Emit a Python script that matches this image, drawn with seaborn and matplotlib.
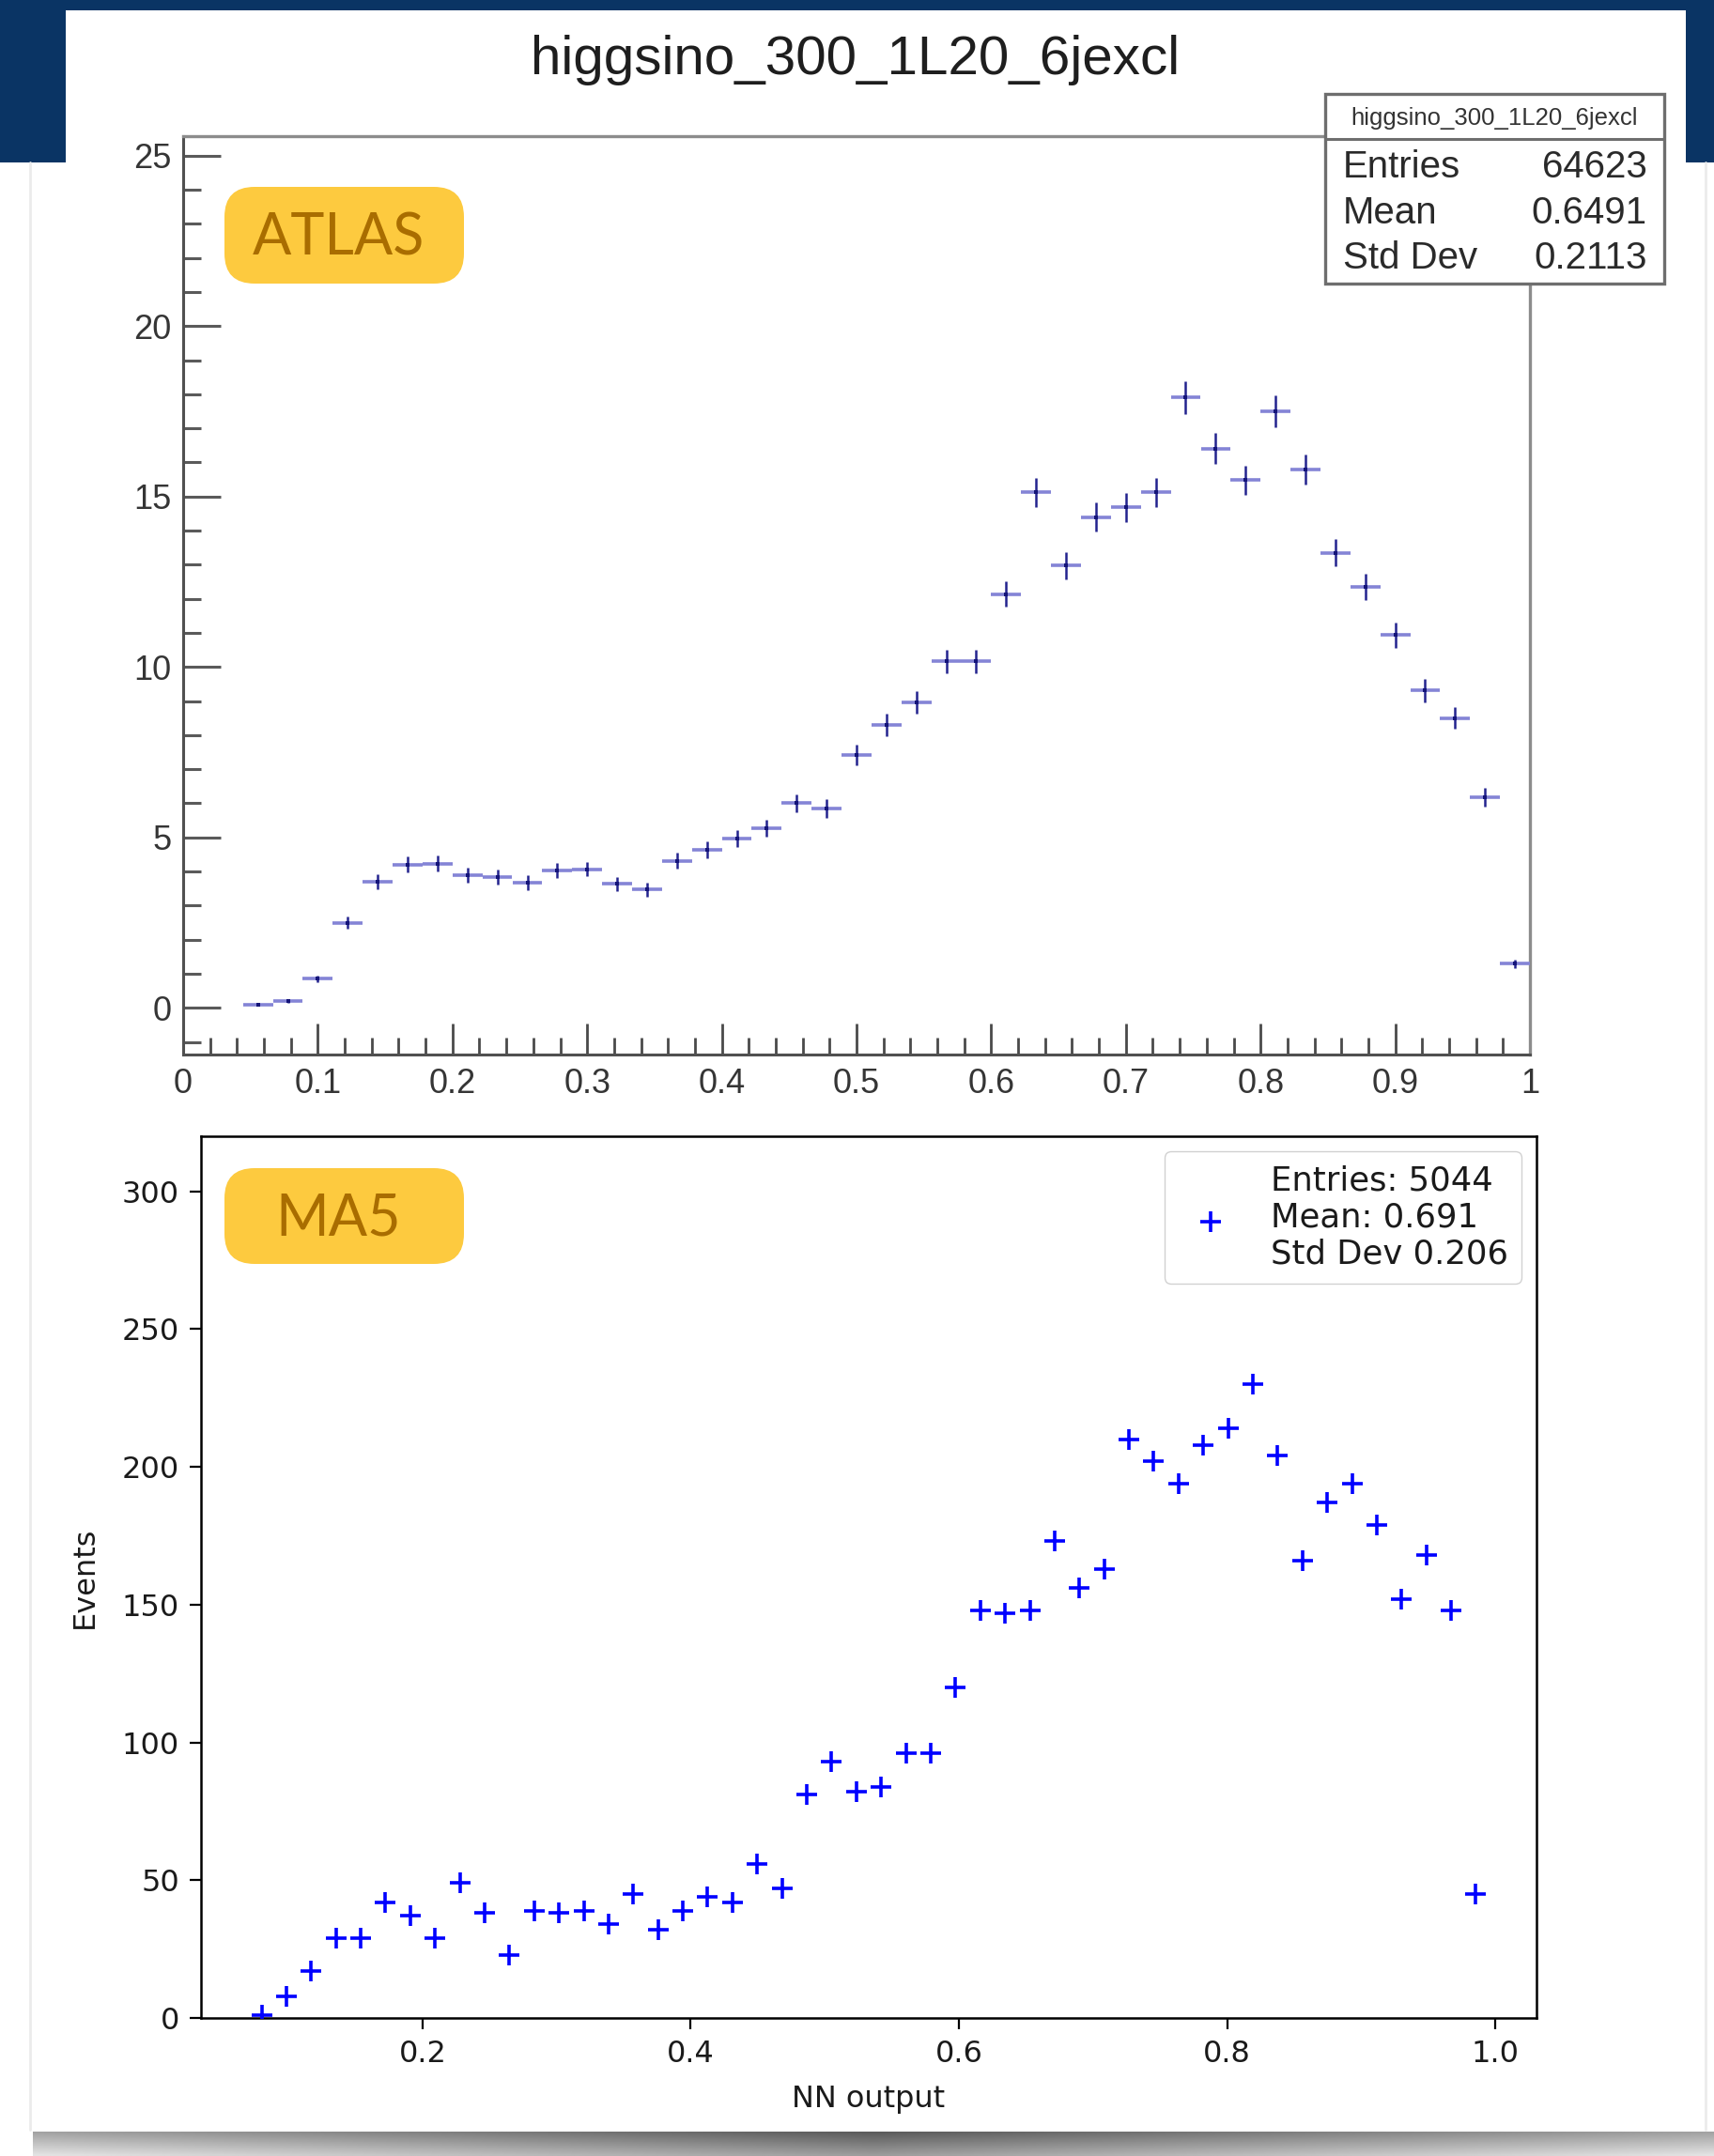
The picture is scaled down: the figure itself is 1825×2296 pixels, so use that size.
import matplotlib
matplotlib.use("Agg")
import matplotlib.pyplot as plt
import matplotlib.transforms as mtrans
from matplotlib.patches import Rectangle, FancyBboxPatch
from matplotlib.lines import Line2D
from matplotlib.ticker import MultipleLocator
import numpy as np
import pandas as pd
import seaborn as sns

# ----------------------------- data -----------------------------
title_text = "higgsino_300_1L20_6jexcl"

# ATLAS (ROOT) histogram: 45 bins on [0, 1]
atlas_bin_centres = [0.0556, 0.0778, 0.1000, 0.1222, 0.1444, 0.1667, 0.1889, 0.2111,
                     0.2333, 0.2556, 0.2778, 0.3000, 0.3222, 0.3444, 0.3667, 0.3889,
                     0.4111, 0.4333, 0.4556, 0.4778, 0.5000, 0.5222, 0.5444, 0.5667,
                     0.5889, 0.6111, 0.6333, 0.6556, 0.6778, 0.7000, 0.7222, 0.7444,
                     0.7667, 0.7889, 0.8111, 0.8333, 0.8556, 0.8778, 0.9000, 0.9222,
                     0.9444, 0.9667, 0.9889]
atlas_events = [0.08, 0.20, 0.85, 2.50, 3.70, 4.20, 4.23, 3.90, 3.83, 3.67, 4.03, 4.07,
                3.63, 3.47, 4.31, 4.64, 4.96, 5.28, 6.00, 5.85, 7.42, 8.30, 8.95, 10.16,
                10.16, 12.14, 15.12, 12.98, 14.40, 14.68, 15.12, 17.90, 16.41, 15.48,
                17.50, 15.80, 13.35, 12.34, 10.93, 9.31, 8.50, 6.17, 1.29]
atlas_errors = [0.03, 0.05, 0.10, 0.17, 0.21, 0.23, 0.23, 0.22, 0.22, 0.21, 0.22, 0.22,
                0.21, 0.20, 0.23, 0.24, 0.25, 0.25, 0.27, 0.27, 0.30, 0.32, 0.33, 0.35,
                0.35, 0.38, 0.43, 0.40, 0.42, 0.42, 0.43, 0.47, 0.45, 0.43, 0.46, 0.44,
                0.40, 0.39, 0.36, 0.34, 0.32, 0.27, 0.12]
atlas_bin_halfwidth = 0.0111
atlas_xticks = [0, 0.1, 0.2, 0.3, 0.4, 0.5, 0.6, 0.7, 0.8, 0.9, 1.0]
atlas_xtick_labels = ["0", "0.1", "0.2", "0.3", "0.4", "0.5", "0.6", "0.7", "0.8", "0.9", "1"]
atlas_yticks = [0, 5, 10, 15, 20, 25]
atlas_ytick_labels = ["0", "5", "10", "15", "20", "25"]
atlas_stat_names = ["Entries", "Mean", "Std Dev"]
atlas_stat_values = ["64623", "0.6491", "0.2113"]

# MA5 histogram: 50 bins
ma5_bin_centres = [0.0800, 0.0985, 0.1170, 0.1354, 0.1539, 0.1724, 0.1909, 0.2094, 0.2278,
                   0.2463, 0.2648, 0.2833, 0.3018, 0.3202, 0.3387, 0.3572, 0.3757, 0.3942,
                   0.4126, 0.4311, 0.4496, 0.4681, 0.4866, 0.5050, 0.5235, 0.5420, 0.5605,
                   0.5790, 0.5974, 0.6159, 0.6344, 0.6529, 0.6714, 0.6898, 0.7083, 0.7268,
                   0.7453, 0.7638, 0.7822, 0.8007, 0.8192, 0.8377, 0.8562, 0.8746, 0.8931,
                   0.9116, 0.9301, 0.9486, 0.9670, 0.9855]
ma5_events = [1, 8, 17, 29, 29, 42, 37, 29, 49, 38,
              23, 39, 38, 39, 34, 45, 32, 39, 44, 42,
              56, 47, 81, 93, 82, 84, 96, 96, 120, 148,
              147, 148, 173, 156, 163, 210, 202, 194, 208, 214,
              230, 204, 166, 187, 194, 179, 152, 168, 148, 45]
ma5_legend = "Entries: 5044\nMean: 0.691\nStd Dev 0.206"
ma5_xticks = [0.2, 0.4, 0.6, 0.8, 1.0]
ma5_xtick_labels = ["0.2", "0.4", "0.6", "0.8", "1.0"]
ma5_yticks = [0, 50, 100, 150, 200, 250, 300]
ma5_ytick_labels = ["0", "50", "100", "150", "200", "250", "300"]
ma5_xlabel = "NN output"
ma5_ylabel = "Events"
badge_labels = ["ATLAS", "MA5"]

# ----------------------------- style -----------------------------
sns.set_style("ticks")
plt.rcParams["font.family"] = ["DejaVu Sans"]

W, H, DPI = 1825, 2296, 100
NAVY = "#0a3464"
BADGE = "#fdca3f"
BADGE_TXT = "#a96d00"
ROOT_FONT = "Liberation Sans"

fig = plt.figure(figsize=(W / DPI, H / DPI), dpi=DPI, facecolor="white")
PX = mtrans.IdentityTransform()


def frac_box(x0, y0, x1, y1):
    return [x0 / W, 1 - y1 / H, (x1 - x0) / W, (y1 - y0) / H]


def rect_px(x0, y0, x1, y1, **kw):
    r = Rectangle((x0, H - y1), x1 - x0, y1 - y0, transform=PX, **kw)
    fig.add_artist(r)
    return r


def line_px(xs, ys, **kw):
    ln = Line2D(xs, [H - v for v in ys], transform=PX, **kw)
    fig.add_artist(ln)
    return ln


def text_px(x, y, s, **kw):
    return fig.text(x / W, 1 - y / H, s, **kw)


# ---------------- slide background ----------------
rect_px(0, 0, W, 173, facecolor=NAVY, edgecolor="none", zorder=0)
rect_px(70, 11, 1795, 2272, facecolor="white", edgecolor="none", zorder=0.5)
line_px([32, 32], [173, 2268], color="#ebebeb", lw=2, zorder=0.6)
line_px([1816, 1816], [173, 2268], color="#ebebeb", lw=2, zorder=0.6)

# torn-paper shadow at the bottom
sh_ax = fig.add_axes(frac_box(35, 2270, 1825, 2296), zorder=0.7)
gx = np.abs(np.linspace(-1, 1, 300))
gy = np.linspace(0, 1, 12)[:, None]
shade = 0.36 + 0.28 * gx[None, :] + 0.25 * gy
sh_ax.imshow(np.clip(shade, 0, 1), cmap="gray", vmin=0, vmax=1, aspect="auto")
sh_ax.set_axis_off()

# ---------------- title ----------------
text_px(911, 64, title_text, ha="center", va="center", fontsize=42,
        family=ROOT_FONT, color="#1e1e1e", zorder=3)

# ---------------- top panel (ATLAS / ROOT style) ----------------
ax1 = fig.add_axes(frac_box(195, 145, 1629, 1123), zorder=2)
ax1.errorbar(atlas_bin_centres, atlas_events, xerr=atlas_bin_halfwidth, fmt="none",
             ecolor="#8484d6", elinewidth=2.6, capsize=0, zorder=3)
ax1.errorbar(atlas_bin_centres, atlas_events, yerr=atlas_errors, fmt="none",
             ecolor="#23238e", elinewidth=1.8, capsize=0, zorder=4)
sns.scatterplot(x=atlas_bin_centres, y=atlas_events, marker="s", s=7, color="#141478",
                linewidth=0, ax=ax1, zorder=5)
ax1.set_xlim(0, 1)
ax1.set_ylim(-1.37, 25.57)
ax1.set_xticks(atlas_xticks, labels=atlas_xtick_labels, fontsize=26,
               family=ROOT_FONT, color="#353535")
ax1.set_yticks(atlas_yticks, labels=atlas_ytick_labels, fontsize=26,
               family=ROOT_FONT, color="#353535")
ax1.xaxis.set_minor_locator(MultipleLocator(0.02))
ax1.yaxis.set_minor_locator(MultipleLocator(1))
ax1.tick_params(axis="y", which="major", direction="in", length=29, width=2.2,
                color="#5a5a5a", pad=9, right=False)
ax1.tick_params(axis="y", which="minor", direction="in", length=14, width=2.2,
                color="#5a5a5a", right=False)
ax1.tick_params(axis="x", which="major", direction="in", length=24, width=2.0,
                color="#4a4a4a", pad=10, top=False)
ax1.tick_params(axis="x", which="minor", direction="in", length=13, width=2.0,
                color="#4a4a4a", top=False)
for side in ["left", "bottom"]:
    ax1.spines[side].set_color("#505050")
    ax1.spines[side].set_linewidth(2.2)
for side in ["top", "right"]:
    ax1.spines[side].set_color("#8c8c8c")
    ax1.spines[side].set_linewidth(2.4)
ax1.set_xlabel("")
ax1.set_ylabel("")

# stat box
rect_px(1411, 100, 1772, 302, facecolor="white", edgecolor="#6e6e6e", lw=2.4, zorder=5)
line_px([1411, 1772], [148, 148], color="#6e6e6e", lw=2.2, zorder=6)
text_px(1591, 126, title_text, ha="center", va="center", fontsize=18.5,
        family=ROOT_FONT, color="#333333", zorder=7)
for i, (nm, val) in enumerate(zip(atlas_stat_names, atlas_stat_values)):
    yy = 178 + i * 48.5
    text_px(1430, yy, nm, ha="left", va="center", fontsize=29,
            family=ROOT_FONT, color="#2a2a2a", zorder=7)
    text_px(1754, yy, val, ha="right", va="center", fontsize=29,
            family=ROOT_FONT, color="#2a2a2a", zorder=7)

# ---------------- bottom panel (MA5 / matplotlib style) ----------------
ax2 = fig.add_axes(frac_box(214, 1210, 1636, 2149), zorder=2)
sns.scatterplot(x=ma5_bin_centres, y=ma5_events, marker="+", s=270, color="#0000ff",
                linewidth=2.6, ax=ax2, label=ma5_legend, zorder=3)
ax2.set_xlim(0.0348, 1.0307)
ax2.set_ylim(0, 320)
ax2.set_xticks(ma5_xticks, labels=ma5_xtick_labels, fontsize=23)
ax2.set_yticks(ma5_yticks, labels=ma5_ytick_labels, fontsize=23)
ax2.tick_params(axis="both", direction="out", length=8.5, width=1.6, color="black",
                pad=8, labelcolor="#1a1a1a")
for side in ax2.spines:
    ax2.spines[side].set_visible(True)
    ax2.spines[side].set_color("black")
    ax2.spines[side].set_linewidth(1.8)
ax2.set_xlabel(ma5_xlabel, fontsize=23, color="#1a1a1a", labelpad=12)
ax2.set_ylabel(ma5_ylabel, fontsize=23, color="#1a1a1a", labelpad=17)
leg = ax2.legend(loc="upper right", fontsize=25.5, frameon=True, fancybox=True,
                 edgecolor="#cccccc", framealpha=0.9, borderaxespad=0.45)
for t in leg.get_texts():
    t.set_color("#1a1a1a")

# ---------------- badges ----------------
for label, (bx0, by0, bx1, by1) in zip(badge_labels, [(239, 199, 494, 302),
                                                      (239, 1244, 494, 1346)]):
    patch = FancyBboxPatch((bx0, H - by1), bx1 - bx0, by1 - by0,
                           boxstyle="round,pad=0,rounding_size=32", transform=PX,
                           facecolor=BADGE, edgecolor="none", zorder=8)
    fig.add_artist(patch)
    text_px((bx0 + bx1) / 2 - 6, (by0 + by1) / 2 + 3, label, ha="center", va="center",
            fontsize=44, family=["Lato", "DejaVu Sans"], color=BADGE_TXT, zorder=9)

fig.savefig("out.png", dpi=DPI, facecolor="white")
